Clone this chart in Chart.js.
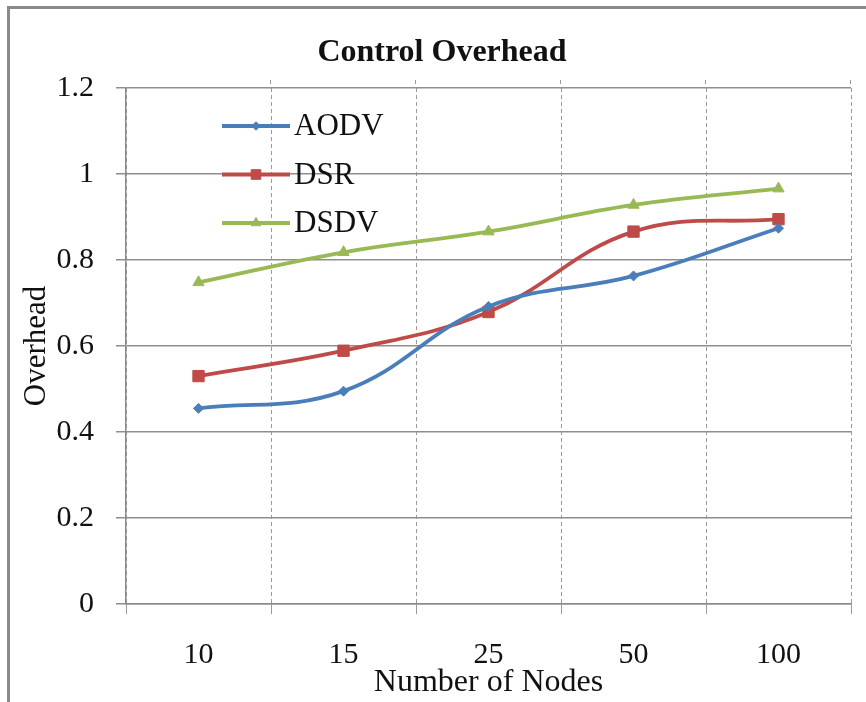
<!DOCTYPE html>
<html>
<head>
<meta charset="utf-8">
<script src="https://cdn.jsdelivr.net/npm/chart.js@4/dist/chart.umd.min.js"></script>
<style>
  html, body { margin: 0; padding: 0; background: #fff; overflow: hidden; }
  #wrap { position: relative; width: 866px; height: 702px; }
  #frame { position: absolute; left: 7px; top: 6px; width: 1000px; height: 1000px;
           border: 3px solid #8a8a8a; box-sizing: border-box; background: #fff; }
  #chart { position: absolute; left: 0; top: 0; }
</style>
</head>
<body>
<div id="wrap">
  <div id="frame"></div>
  <canvas id="chart" width="866" height="702"></canvas>
</div>
<script>
// Number of nodes on the x axis
const nodes = ['10', '15', '25', '50', '100'];

// Control overhead per routing protocol
const aodv = [0.455, 0.495, 0.692, 0.763, 0.874];
const dsr  = [0.530, 0.589, 0.679, 0.866, 0.895];
const dsdv = [0.748, 0.818, 0.866, 0.928, 0.966];

// Value-axis range and step
const yMin = 0;
const yMax = 1.2;
const yStep = 0.2;

const SERIF = '"Liberation Serif", "Times New Roman", serif';
const TEXT = '#111';

// Vertical dashed grid lines poke a little above the plot's top edge
const gridCaps = {
  id: 'gridCaps',
  beforeDatasetsDraw(chart) {
    const { ctx, chartArea, scales } = chart;
    const x = scales.x;
    ctx.save();
    ctx.strokeStyle = '#9a9a9a';
    ctx.lineWidth = 1;
    ctx.setLineDash([4, 3]);
    for (let i = 1; i <= nodes.length; i++) {
      const px = Math.round(x.left + (x.right - x.left) * i / nodes.length) - 0.5;
      ctx.beginPath();
      ctx.moveTo(px, chartArea.top - 8);
      ctx.lineTo(px, chartArea.top);
      ctx.stroke();
    }
    ctx.restore();
  }
};

// Legend drawn inside the plot area, near its upper-left corner
const innerLegend = {
  id: 'innerLegend',
  afterDatasetsDraw(chart) {
    const { ctx, chartArea } = chart;
    const x0 = chartArea.left + 96;
    const x1 = chartArea.left + 164;
    const rowTop = chartArea.top + 38;
    const rowGap = 48.5;
    ctx.save();
    chart.data.datasets.forEach((ds, i) => {
      const y = rowTop + i * rowGap;
      ctx.strokeStyle = ds.borderColor;
      ctx.lineWidth = ds.borderWidth;
      ctx.beginPath();
      ctx.moveTo(x0, y);
      ctx.lineTo(x1, y);
      ctx.stroke();
      ctx.fillStyle = ds.pointBackgroundColor;
      ctx.strokeStyle = ds.pointBorderColor;
      ctx.lineWidth = 1;
      Chart.helpers.drawPoint(ctx, {
        pointStyle: ds.pointStyle,
        radius: ds.pointRadius * 0.85,
        rotation: 0,
        borderWidth: 1
      }, (x0 + x1) / 2, y);
      ctx.fillStyle = TEXT;
      ctx.font = '31px ' + SERIF;
      ctx.textBaseline = 'middle';
      ctx.textAlign = 'left';
      ctx.fillText(ds.label, x1 + 4, y + 1);
    });
    ctx.restore();
  }
};

function series(label, data, color, style, radius) {
  return {
    label, data,
    borderColor: color,
    backgroundColor: color,
    pointBackgroundColor: color,
    pointBorderColor: color,
    borderWidth: 3.8,
    pointStyle: style,
    pointRadius: radius,
    pointBorderWidth: 1,
    tension: 0.4,
    fill: false
  };
}

new Chart(document.getElementById('chart'), {
  type: 'line',
  data: {
    labels: nodes,
    datasets: [
      series('AODV', aodv, '#4A7EBB', 'rectRot', 5),
      series('DSR',  dsr,  '#BE4B48', 'rect', 8),
      series('DSDV', dsdv, '#98B954', 'triangle', 6.5)
    ]
  },
  plugins: [gridCaps, innerLegend],
  options: {
    responsive: false,
    animation: false,
    devicePixelRatio: 1,
    layout: { padding: { left: 33, right: 15, top: 0, bottom: 0 } },
    plugins: {
      legend: { display: false },
      tooltip: { enabled: false },
      title: {
        display: true,
        text: 'Control Overhead',
        color: TEXT,
        font: { family: SERIF, size: 32, weight: 'bold' },
        padding: { top: 34, bottom: 15.6 }
      }
    },
    scales: {
      x: {
        offset: true,
        grid: {
          offset: true,
          color: '#9a9a9a',
          lineWidth: 1,
          tickLength: 10
        },
        // the dash here applies to the vertical grid lines in Chart.js v4
        border: { display: true, color: '#8a8a8a', width: 1.5, dash: [4, 3] },
        ticks: {
          color: TEXT,
          padding: 23,
          font: { family: SERIF, size: 30 }
        },
        title: {
          display: true,
          text: 'Number of Nodes',
          color: TEXT,
          font: { family: SERIF, size: 32 },
          padding: { top: -5, bottom: 0 }
        },
        afterFit(scale) { scale.height = 98; }
      },
      y: {
        min: yMin,
        max: yMax,
        ticks: {
          stepSize: yStep,
          color: TEXT,
          padding: 22,
          font: { family: SERIF, size: 30 },
          callback: (v) => String(Number(v.toFixed(1)))
        },
        grid: {
          color: '#8e8e8e',
          lineWidth: 1.5,
          tickLength: 10
        },
        border: { display: true, color: '#8a8a8a', width: 1.5 },
        title: {
          display: true,
          text: 'Overhead',
          color: TEXT,
          font: { family: SERIF, size: 31 },
          padding: { top: -15, bottom: 0 }
        },
        afterFit(scale) { scale.width = 93; }
      }
    }
  }
});
</script>
</body>
</html>
